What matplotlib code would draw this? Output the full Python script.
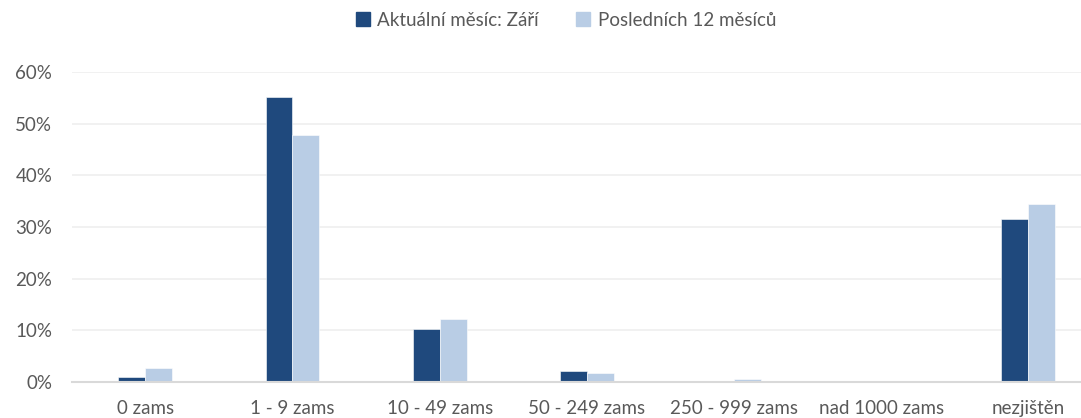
import matplotlib
matplotlib.use("Agg")
import matplotlib.pyplot as plt
import numpy as np
from matplotlib.ticker import PercentFormatter
from matplotlib.patches import Patch

categories = ["0 zams", "1 - 9 zams", "10 - 49 zams", "50 - 249 zams",
              "250 - 999 zams", "nad 1000 zams", "nezjištěn"]
aktualni = [1.0, 55.2, 10.2, 2.2, 0.0, 0.0, 31.5]
poslednich = [2.7, 47.9, 12.2, 1.7, 0.5, 0.0, 34.5]
series_names = ["Aktuální měsíc: Září", "Posledních 12 měsíců"]
yticks = [0, 10, 20, 30, 40, 50, 60]

dark = "#1F497D"
light = "#B9CDE5"
txt = "#595959"

plt.rcParams['font.family'] = ['Lato', 'DejaVu Sans']

W, H = 1081, 418
fig = plt.figure(figsize=(W / 100, H / 100), dpi=100)
left_px, right_px = 71.7, 1102.0
top_px, bot_px = 72.0, 382.0
ax = fig.add_axes([left_px / W, (H - bot_px) / H, (right_px - left_px) / W, (bot_px - top_px) / H])

x = np.arange(len(categories))
bw = 0.183
ax.bar(x - bw / 2, aktualni, bw, color=dark, edgecolor="white", linewidth=0.4, zorder=3)
ax.bar(x + bw / 2, poslednich, bw, color=light, edgecolor="white", linewidth=0.4, zorder=3)

ax.set_xlim(-0.5, len(categories) - 0.5)
ax.set_ylim(0, 60)
ax.set_yticks(yticks)
ax.yaxis.set_major_formatter(PercentFormatter(decimals=0))
ax.set_xticks(x)
ax.set_xticklabels(categories)
ax.tick_params(axis='both', length=0, labelsize=13.5, colors=txt)
ax.tick_params(axis='x', pad=13)
ax.tick_params(axis='y', pad=14)
ax.grid(axis='y', color="#EFEFEF", linewidth=1.2, zorder=0)
for s in ['top', 'right', 'left']:
    ax.spines[s].set_visible(False)
ax.spines['bottom'].set_color("#D9D9D9")
ax.spines['bottom'].set_linewidth(1.5)
ax.spines['bottom'].set_zorder(4)

handles = [Patch(color=dark), Patch(color=light)]
fig.legend(handles, series_names, loc='center', bbox_to_anchor=(566 / W, 1 - 20 / H),
           ncol=2, frameon=False, fontsize=13.5, labelcolor=txt,
           handlelength=0.75, handleheight=0.75, handletextpad=0.4, columnspacing=2.0)

fig.savefig("out.png", dpi=100)
